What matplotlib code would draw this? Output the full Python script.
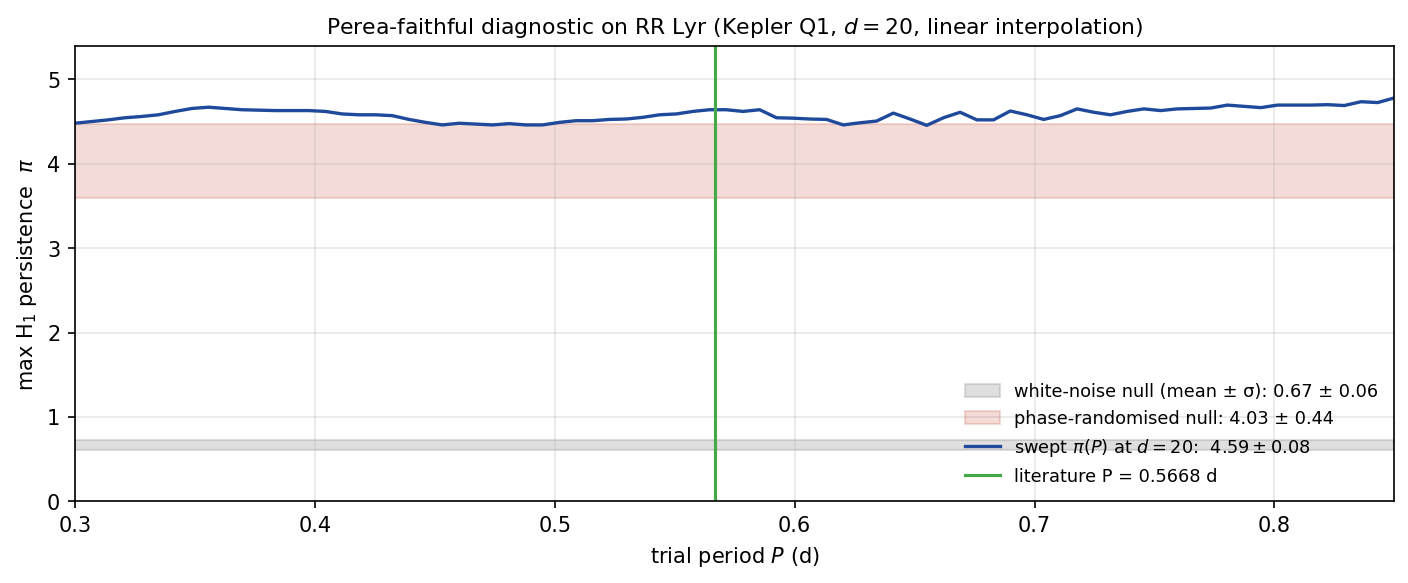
import numpy as np
import matplotlib
matplotlib.use("Agg")
import matplotlib.pyplot as plt

# trial period grid and swept max-H1 persistence
periods = np.linspace(0.3, 0.85, 80)
pi_swept = [
    4.48, 4.50, 4.52, 4.545, 4.56, 4.58, 4.62, 4.655, 4.67, 4.655,
    4.64, 4.635, 4.63, 4.63, 4.63, 4.62, 4.59, 4.58, 4.58, 4.57,
    4.525, 4.49, 4.46, 4.48, 4.47, 4.46, 4.475, 4.46, 4.46, 4.49,
    4.51, 4.51, 4.525, 4.53, 4.55, 4.58, 4.59, 4.62, 4.64, 4.64,
    4.62, 4.64, 4.545, 4.54, 4.53, 4.525, 4.46, 4.485, 4.506, 4.60,
    4.53, 4.455, 4.545, 4.61, 4.52, 4.52, 4.625, 4.58, 4.525, 4.57,
    4.65, 4.61, 4.58, 4.62, 4.65, 4.63, 4.65, 4.655, 4.66, 4.695,
    4.68, 4.665, 4.695, 4.695, 4.695, 4.70, 4.69, 4.735, 4.725, 4.78,
]

wn_mean, wn_std = 0.67, 0.06
pr_mean, pr_std = 4.03, 0.44
swept_mean, swept_std = 4.59, 0.08
lit_period = 0.5668
d = 20

fig, ax = plt.subplots(figsize=(9.39, 3.89), dpi=150)
fig.subplots_adjust(left=0.0532, right=0.990, top=0.921, bottom=0.140)

ax.axhspan(wn_mean - wn_std, wn_mean + wn_std, color="grey", alpha=0.25,
           label=f"white-noise null (mean ± σ): {wn_mean:.2f} ± {wn_std:.2f}")
ax.axhspan(pr_mean - pr_std, pr_mean + pr_std, color="#c0392b", alpha=0.18,
           label=f"phase-randomised null: {pr_mean:.2f} ± {pr_std:.2f}")
ax.plot(periods, pi_swept, color="#1f4a9c", lw=1.6,
        label=rf"swept $\pi(P)$ at $d={d}$:  ${swept_mean:.2f} \pm {swept_std:.2f}$")
ax.axvline(lit_period, color="#45aa45", lw=1.5,
           label=f"literature P = {lit_period} d")

ax.set_xlim(0.3, 0.85)
ax.set_ylim(0, 5.4)
ax.grid(True, alpha=0.3)
ax.set_xlabel("trial period $P$ (d)")
ax.set_ylabel(r"max H$_1$ persistence  $\pi$")
ax.set_title(rf"Perea-faithful diagnostic on RR Lyr (Kepler Q1, $d = {d}$, linear interpolation)",
             fontsize=10.5)
ax.legend(loc="lower right", frameon=False, fontsize=8.5)

fig.savefig("out.png", dpi=150)
